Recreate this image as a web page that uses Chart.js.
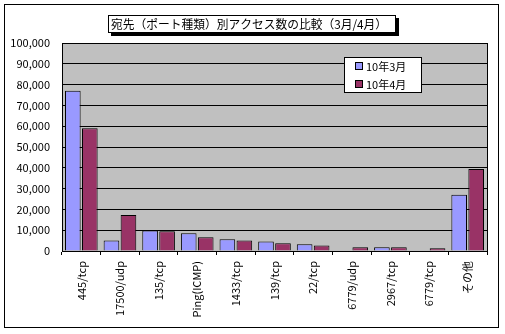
<!DOCTYPE html>
<html>
<head>
<meta charset="utf-8">
<script src="https://cdn.jsdelivr.net/npm/chart.js@4"></script>
<style>
  html, body { margin: 0; padding: 0; background: #fff; }
  #wrap { width: 505px; height: 334px; }
</style>
</head>
<body>
<div id="wrap"><canvas id="chart" width="505" height="334"></canvas></div>
<script>
// Data
const titleText = '宛先（ポート種類）別アクセス数の比較（3月/4月）';
const categories = ['445/tcp', '17500/udp', '135/tcp', 'Ping(ICMP)', '1433/tcp', '139/tcp', '22/tcp', '6779/udp', '2967/tcp', '6779/tcp', 'その他'];
const march = [77000, 5100, 9800, 8500, 5600, 4600, 3200, 0, 1800, 0, 27000];
const april = [59000, 17300, 9500, 6600, 5100, 3700, 2700, 1800, 1800, 1300, 39400];
const seriesNames = ['10年3月', '10年4月'];

const FONT = '"MS PGothic","Noto Sans CJK JP",sans-serif';

// Grey plot background, frame, title box and floating legend
const decor = {
    id: 'decor',
    beforeDraw(chart) {
        const c = chart.ctx, a = chart.chartArea;
        c.save();
        c.fillStyle = '#c0c0c0';
        c.fillRect(a.left, a.top, a.right - a.left, a.bottom - a.top);
        c.restore();
    },
    afterDraw(chart) {
        const c = chart.ctx, a = chart.chartArea;
        c.save();
        c.strokeStyle = '#000';
        c.lineWidth = 1;
        c.strokeRect(Math.round(a.left) + 0.5, Math.round(a.top) + 0.5, Math.round(a.right - a.left), Math.round(a.bottom - a.top));
        // outer frame
        c.strokeRect(4.5, 4.5, 494, 323);

        // title with shadow
        c.fillStyle = '#000';
        c.fillRect(111, 18, 288, 18);
        c.fillStyle = '#fff';
        c.fillRect(108, 15, 288, 18);
        c.strokeRect(108.5, 15.5, 287, 17);
        c.fillStyle = '#000';
        c.font = '12px ' + FONT;
        c.textAlign = 'center';
        c.textBaseline = 'middle';
        c.fillText(titleText, 249, 24.5, 276);

        // legend
        c.fillStyle = '#fff';
        c.fillRect(344, 57, 78, 36);
        c.strokeRect(344.5, 57.5, 77, 35);
        c.font = '11px ' + FONT;
        c.textAlign = 'left';
        chart.data.datasets.forEach((ds, i) => {
            const y = 66 + i * 18;
            c.fillStyle = ds.backgroundColor;
            c.fillRect(356, y - 3, 6, 6);
            c.strokeRect(355.5, y - 3.5, 7, 7);
            c.fillStyle = '#000';
            c.fillText(ds.label, 366, y + 0.5);
        });
        c.restore();
    }
};

const ctx = document.getElementById('chart').getContext('2d');
new Chart(ctx, {
    type: 'bar',
    data: {
        labels: categories,
        datasets: [
            { label: seriesNames[0], data: march, backgroundColor: '#9999ff', borderColor: '#000', borderWidth: 1 },
            { label: seriesNames[1], data: april, backgroundColor: '#993366', borderColor: '#000', borderWidth: 1 }
        ]
    },
    options: {
        responsive: false,
        animation: false,
        devicePixelRatio: 1,
        layout: { padding: { top: 43, right: 18, left: 4, bottom: 0 } },
        plugins: { legend: { display: false }, title: { display: false }, tooltip: { enabled: false } },
        datasets: { bar: { barPercentage: 0.92, categoryPercentage: 0.88 } },
        scales: {
            x: {
                grid: { display: true, drawOnChartArea: false, color: '#000', tickLength: 4, offset: true },
                border: { display: true, color: '#000' },
                ticks: {
                    color: '#000', font: { family: FONT, size: 11 },
                    minRotation: 90, maxRotation: 90, padding: 6, autoSkip: false
                },
                afterFit(s) { s.height = 83; }
            },
            y: {
                min: 0, max: 100000,
                grid: { color: '#000', drawTicks: false },
                border: { display: true, color: '#000' },
                ticks: {
                    stepSize: 10000, color: '#000', padding: 12,
                    font: { family: FONT, size: 11 },
                    callback: v => v.toLocaleString('en-US')
                },
                afterFit(s) { s.width = 58; }
            }
        }
    },
    plugins: [decor]
});
</script>
</body>
</html>
